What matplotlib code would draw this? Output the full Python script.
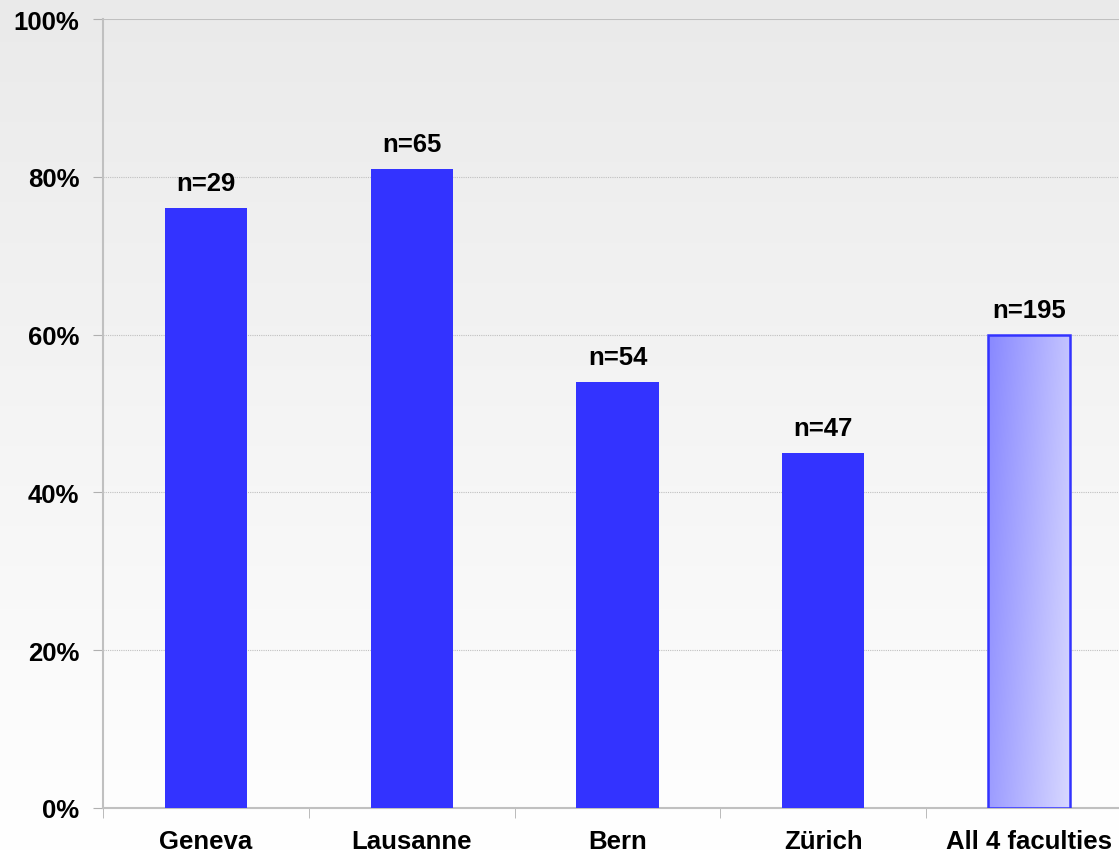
import numpy as np
import matplotlib
matplotlib.use('Agg')
import matplotlib.pyplot as plt
from matplotlib.colors import LinearSegmentedColormap

categories = ['Geneva', 'Lausanne', 'Bern', 'Zürich', 'All 4 faculties']
values = [76, 81, 54, 45, 60]
labels = ['n=29', 'n=65', 'n=54', 'n=47', 'n=195']

plt.rcParams['font.family'] = ['Liberation Sans', 'DejaVu Sans']
plt.rcParams['font.weight'] = 'bold'

fig = plt.figure(figsize=(11.19, 8.54), dpi=100)

# background gradient (gray at top, white at bottom)
bg = fig.add_axes([0, 0, 1, 1], zorder=-1)
grad = np.linspace(0, 1, 256).reshape(-1, 1)
bg_cmap = LinearSegmentedColormap.from_list('bg', ['#eaeaea', '#ffffff'])
bg.imshow(grad, aspect='auto', cmap=bg_cmap, extent=[0, 1, 0, 1], origin='upper')
bg.axis('off')

# plot area runs a little past the right edge of the figure
ax = fig.add_axes([103/1119, 45/854, 1029/1119, 789/854])
ax.patch.set_alpha(0)

x = np.arange(len(categories))
ax.bar(x[:-1], values[:-1], width=0.4, color='#3333ff', zorder=3)
last = ax.bar(x[-1], values[-1], width=0.4, facecolor='none', edgecolor='#3333ff', linewidth=1.8, zorder=4)

# gradient fill of the last bar
xx, yy = np.meshgrid(np.linspace(0, 1, 100), np.linspace(0, 1, 100))
g = 0.75 * xx + 0.25 * yy
bar_cmap = LinearSegmentedColormap.from_list('bar', ['#8888ff', '#d8d8ff'])
b = last[0]
im = ax.imshow(g, cmap=bar_cmap, aspect='auto', origin='upper',
               extent=[b.get_x(), b.get_x() + b.get_width(), 0, values[-1]], zorder=3)
im.set_clip_path(b)

for xi, v, lab in zip(x, values, labels):
    ax.annotate(lab, (xi, v), xytext=(0, 13), textcoords='offset points',
                ha='center', va='baseline', fontsize=18.5, fontweight='bold')

ax.set_xlim(-0.5, len(categories) - 0.5)
ax.set_ylim(0, 100)
ax.set_yticks(np.arange(0, 101, 20))
ax.set_yticklabels([f'{t}%' for t in range(0, 101, 20)], fontsize=18.5, fontweight='bold')
ax.set_xticks(x)
ax.set_xticklabels(categories, fontsize=18.5, fontweight='bold')
ax.set_xticks(np.arange(-0.5, len(categories) - 0.4, 1), minor=True)
ax.tick_params(axis='x', which='major', length=0, pad=15)
ax.tick_params(axis='x', which='minor', length=7, color='#b0b0b0', direction='out')
ax.tick_params(axis='y', length=7, color='#b0b0b0', pad=10)

for yv in [20, 40, 60, 80]:
    ax.axhline(yv, color='#c0c0c0', linestyle=(0, (1, 1)), linewidth=0.8, zorder=1)
ax.axhline(100, color='#c0c0c0', linewidth=1.5, zorder=1)

for s in ['top', 'right']:
    ax.spines[s].set_visible(False)
ax.spines['left'].set_color('#c0c0c0')
ax.spines['left'].set_linewidth(1.5)
ax.spines['bottom'].set_color('#c0c0c0')
ax.spines['bottom'].set_linewidth(1.5)

fig.savefig('out.png', dpi=100)
